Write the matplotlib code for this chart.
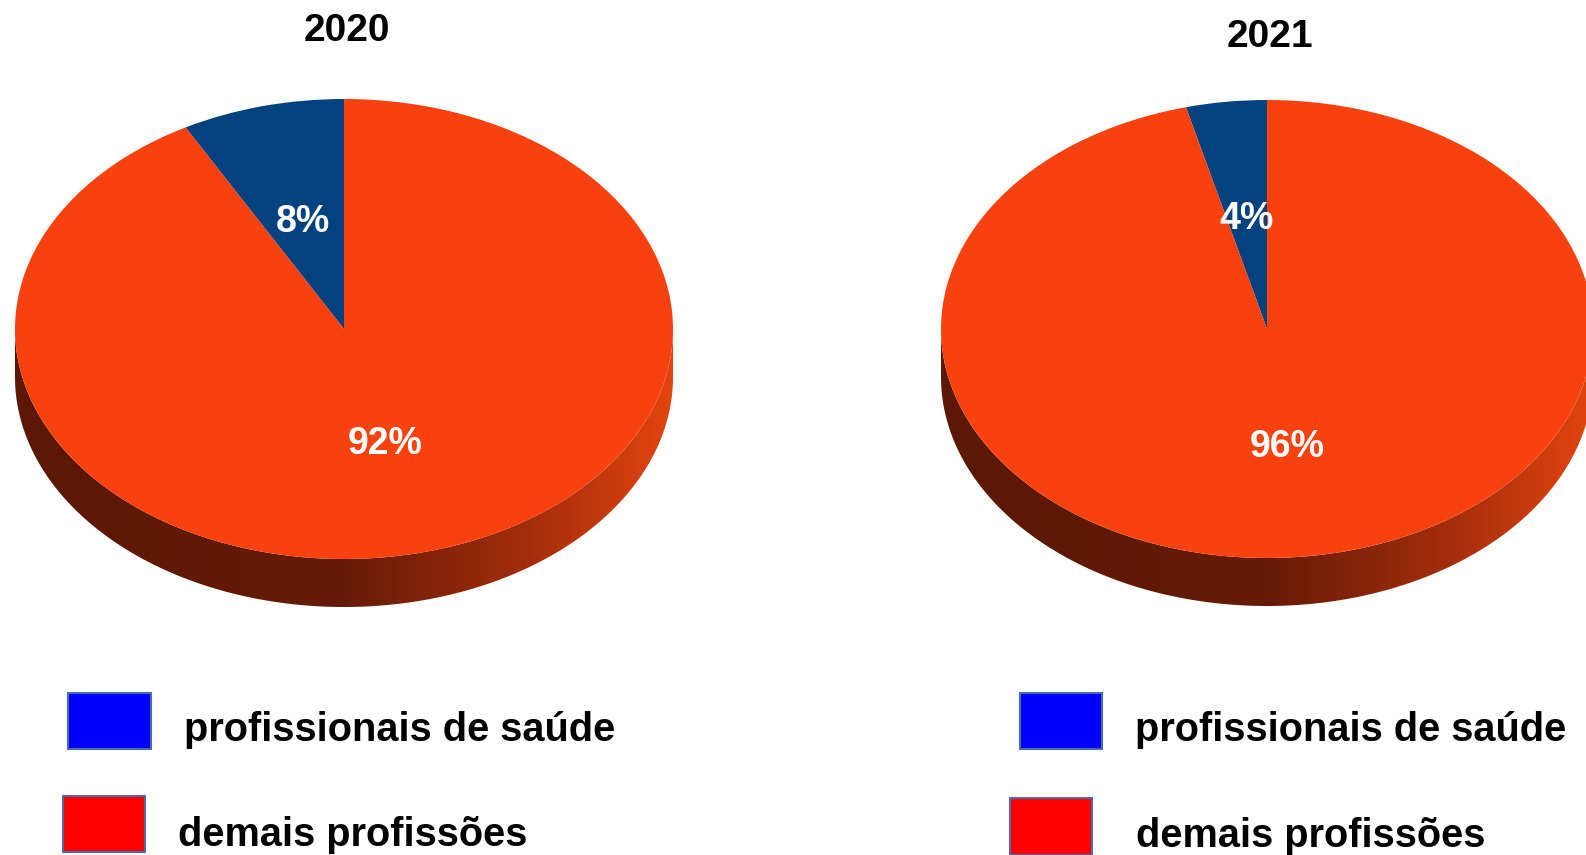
import numpy as np
import matplotlib.pyplot as plt
from matplotlib.colors import LinearSegmentedColormap
from matplotlib.patches import Rectangle, Polygon

W, H = 1586, 855
plt.rcParams['font.family'] = ['Liberation Sans', 'DejaVu Sans']

anos = ['2020', '2021']
categorias = ['profissionais de saúde', 'demais profissões']
saude = [8, 4]
demais = [92, 96]

cor_topo = ['#03417f', '#f7410f']
cor_legenda = ['#0000ff', '#ff0000']
lado = LinearSegmentedColormap.from_list(
    'lado', [(0, '#5a1805'), (0.5, '#661b07'), (0.78, '#a32d0b'), (1, '#e2450f')])

# centro, semi-eixos e espessura de cada pizza (pixels)
pizzas = [dict(cx=344, cy=329, rx=329, ry=230, prof=48),
          dict(cx=1267, cy=329, rx=326, ry=229, prof=48)]
titulos_xy = [(347, 41), (1270, 47)]
legendas = [dict(caixas=[(68, 693, 83, 56), (63, 796, 82, 56)],
                 textos=[(184, 741), (178, 846)]),
            dict(caixas=[(1020, 693, 82, 56), (1010, 798, 82, 57)],
                 textos=[(1135, 741), (1136, 847)])]

fig = plt.figure(figsize=(W / 100, H / 100), dpi=100)
ax0 = fig.add_axes([0, 0, 1, 1])
ax0.set_xlim(0, W)
ax0.set_ylim(H, 0)
ax0.axis('off')

for i, p in enumerate(pizzas):
    d = p['prof'] / p['ry']
    ax = fig.add_axes([(p['cx'] - p['rx']) / W,
                       (H - p['cy'] - p['ry'] - p['prof']) / H,
                       2 * p['rx'] / W,
                       (2 * p['ry'] + p['prof']) / H])
    # lateral da pizza com degradê
    t = np.linspace(np.pi, 2 * np.pi, 200)
    borda = np.vstack([np.c_[np.cos(t), np.sin(t) - d],
                       np.c_[np.cos(t[::-1]), np.sin(t[::-1])]])
    poly = Polygon(borda, closed=True, facecolor='none', edgecolor='none')
    ax.add_patch(poly)
    im = ax.imshow(np.linspace(0, 1, 256)[None, :], cmap=lado,
                   extent=(-1, 1, -1 - d, 0), aspect='auto', zorder=0)
    im.set_clip_path(poly)
    wedges, textos, pcts = ax.pie([saude[i], demais[i]], colors=cor_topo, startangle=90,
                                  autopct='%.0f%%', pctdistance=0.5,
                                  textprops=dict(color='white', fontsize=27, fontweight='bold'),
                                  wedgeprops=dict(linewidth=0))
    for a in pcts:
        x, y = a.get_position()
        a.set_position((x, y - 4 / p['ry']))
    ax.set_aspect('auto')
    ax.set_xlim(-1, 1)
    ax.set_ylim(-1 - d, 1)
    ax.axis('off')

    ax0.text(titulos_xy[i][0], titulos_xy[i][1], anos[i], ha='center', va='baseline',
             fontsize=28, fontweight='bold', color='black')
    leg = legendas[i]
    for (x, y, w, h), c in zip(leg['caixas'], cor_legenda):
        ax0.add_patch(Rectangle((x, y), w, h, facecolor=c, edgecolor='#4a6cab', linewidth=1.5))
    for (x, y), nome in zip(leg['textos'], categorias):
        ax0.text(x, y, nome, ha='left', va='baseline', fontsize=28.6,
                 fontweight='bold', color='black')

fig.savefig('out.png', dpi=100)
